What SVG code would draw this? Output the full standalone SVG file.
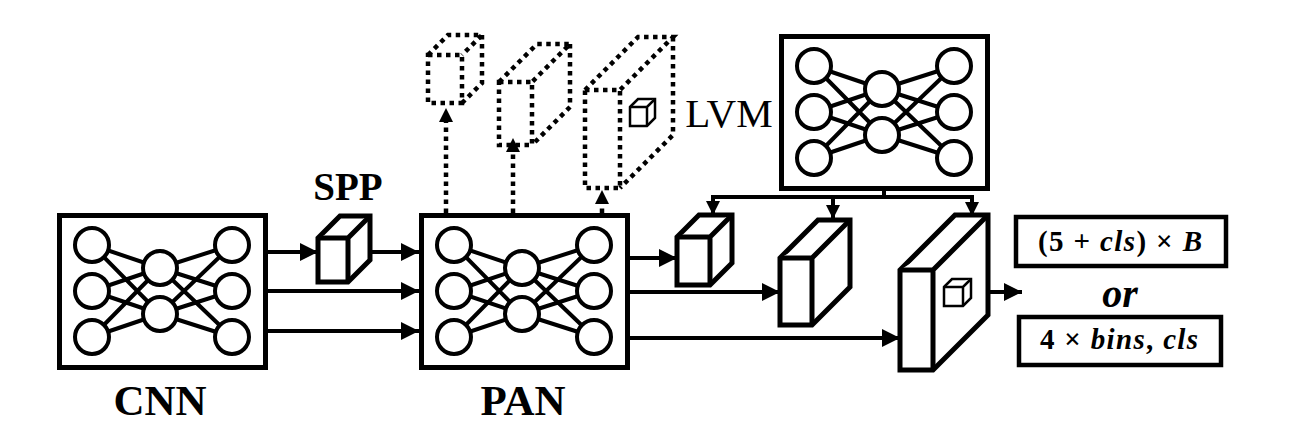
<svg xmlns="http://www.w3.org/2000/svg" xmlns:xlink="http://www.w3.org/1999/xlink" width="1289" height="443" viewBox="0 0 1289 443">
<style>
.box{fill:#fff;stroke:#000;stroke-width:5}
.edge{stroke:#000;stroke-width:4;fill:none}
.cube{fill:#fff;stroke:#000;stroke-width:5;stroke-linejoin:miter;stroke-miterlimit:2}
.mini{fill:#fff;stroke:#000;stroke-width:2.5;stroke-linejoin:miter;stroke-miterlimit:2}
.dot{fill:none;stroke:#000;stroke-width:4.5;stroke-dasharray:4.5 4.5}
.conn{stroke:#000;stroke-width:4;fill:none}
</style>
<defs>
<g id="net">
<rect class="box" x="2.5" y="2.5" width="206" height="152"/>
<g class="edge">
<path d="M35 32L103 55M35 32L103 101M35 78L103 55M35 78L103 101M35 124L103 55M35 124L103 101"/>
<path d="M175 32L103 55M175 32L103 101M175 78L103 55M175 78L103 101M175 124L103 55M175 124L103 101"/>
</g>
<g fill="#fff" stroke="#000" stroke-width="4">
<circle cx="35" cy="32" r="17"/><circle cx="35" cy="78" r="17"/><circle cx="35" cy="124" r="17"/>
<circle cx="103" cy="55" r="17"/><circle cx="103" cy="101" r="17"/>
<circle cx="175" cy="32" r="17"/><circle cx="175" cy="78" r="17"/><circle cx="175" cy="124" r="17"/>
</g>
</g>
<marker id="ah" markerUnits="userSpaceOnUse" markerWidth="18" markerHeight="18" viewBox="0 0 16 16" refX="16" refY="8" orient="auto">
<path d="M0 0L16 8L0 16Z" fill="#000"/>
</marker>
<marker id="ahs" markerUnits="userSpaceOnUse" markerWidth="14" markerHeight="14" viewBox="0 0 14 14" refX="14" refY="7" orient="auto">
<path d="M0 0L14 7L0 14Z" fill="#000"/>
</marker>
</defs>
<rect width="1289" height="443" fill="#fff"/>

<g id="connectors">
<path class="conn" d="M268 252H318" marker-end="url(#ah)"/>
<path class="conn" d="M370 252H419" marker-end="url(#ah)"/>
<path class="conn" d="M268 291H419" marker-end="url(#ah)"/>
<path class="conn" d="M268 331H419" marker-end="url(#ah)"/>
<path class="conn" d="M630 258H677" marker-end="url(#ah)"/>
<path class="conn" d="M630 292H780" marker-end="url(#ah)"/>
<path class="conn" d="M630 338H900" marker-end="url(#ah)"/>
<path class="conn" d="M884 190V197M711 197H974"/>
<path class="conn" d="M713 197V215" marker-end="url(#ahs)"/>
<path class="conn" d="M833 197V219" marker-end="url(#ahs)"/>
<path class="conn" d="M972 197V216" marker-end="url(#ahs)"/>
<path class="conn" d="M966 292H1022" marker-end="url(#ah)"/>
<path class="dot" d="M446 213V122"/>
<path class="dot" d="M513 213V152"/>
<path class="dot" d="M602 213V204"/>
<path d="M439 122L446 108L453 122Z" fill="#000"/>
<path d="M506 152L513 138L520 152Z" fill="#000"/>
<path d="M595 204L602 190L609 204Z" fill="#000"/>
</g>

<g id="cnn">
<use href="#net" x="57" y="213"/>
<text x="160" y="415" font-size="43" font-family="Liberation Serif, serif" font-weight="bold" text-anchor="middle" fill="#000">CNN</text>
</g>

<g id="spp">
<path class="cube" d="M318 238l22 -22h30v44l-22 22h-30Z"/>
<path class="cube" fill="none" d="M318 238h30l22 -22M348 238v44"/>
<text x="348" y="200" font-size="39" font-family="Liberation Serif, serif" font-weight="bold" text-anchor="middle" fill="#000">SPP</text>
</g>

<g id="pan">
<use href="#net" x="419" y="213"/>
<text x="523" y="415" font-size="43" font-family="Liberation Serif, serif" font-weight="bold" text-anchor="middle" fill="#000">PAN</text>
</g>

<g id="lvm">
<use href="#net" x="779" y="34"/>
<text x="729" y="127" font-size="41" font-family="Liberation Serif, serif" text-anchor="middle">LVM</text>
</g>

<g id="dotted-cuboid-1">
<path class="dot" d="M428 55H462V103H428Z"/>
<path class="dot" d="M428 55L448 35H482L462 55"/>
<path class="dot" d="M482 35V83L462 103"/>
</g>
<g id="dotted-cuboid-2">
<path class="dot" d="M499 82H532V145H499Z"/>
<path class="dot" d="M499 82L537 44H570L532 82"/>
<path class="dot" d="M570 44V107L532 145"/>
</g>
<g id="dotted-cuboid-3">
<path class="dot" d="M585 90H620V188H585Z"/>
<path class="dot" d="M585 90L638 37H673L620 90"/>
<path class="dot" d="M673 37V135L620 188"/>
<path class="mini" d="M630 107l8 -8h17v19l-8 8h-17Z"/>
<path class="mini" fill="none" d="M630 107h17l8 -8M647 107v19"/>
</g>

<g id="cube-1">
<path class="cube" d="M677 237l22 -22h33v48l-22 22h-33Z"/>
<path class="cube" fill="none" d="M677 237h33l22 -22M710 237v48"/>
</g>
<g id="cube-2">
<path class="cube" d="M780 258l38 -38h32v67l-38 38h-32Z"/>
<path class="cube" fill="none" d="M780 258h32l38 -38M812 258v67"/>
</g>
<g id="cube-3">
<path class="cube" d="M900 270l55 -55h33v100l-55 55h-33Z"/>
<path class="cube" fill="none" d="M900 270h33l55 -55M933 270v100"/>
<path class="mini" d="M944 287l8 -8h19v19l-8 8h-19Z"/>
<path class="mini" fill="none" d="M944 287h19l8 -8M963 287v19"/>
</g>

<g id="output-1">
<rect x="1016" y="217" width="210" height="49" fill="#fff" stroke="#000" stroke-width="4.5"/>
<text x="1120" y="251" font-size="29" font-family="Liberation Serif, serif" font-weight="bold" text-anchor="middle" fill="#000" textLength="164" lengthAdjust="spacing">(5 + <tspan font-style="italic">cls</tspan>) × <tspan font-style="italic">B</tspan></text>
</g>
<g id="or-label">
<text x="1120" y="307" font-size="40" font-style="italic" font-family="Liberation Serif, serif" font-weight="bold" text-anchor="middle" fill="#000">or</text>
</g>
<g id="output-2">
<rect x="1019" y="317" width="202" height="48" fill="#fff" stroke="#000" stroke-width="4.5"/>
<text x="1119" y="349" font-size="29" font-family="Liberation Serif, serif" font-weight="bold" text-anchor="middle" fill="#000" textLength="158" lengthAdjust="spacing">4 × <tspan font-style="italic">bins</tspan>, <tspan font-style="italic">cls</tspan></text>
</g>
</svg>
